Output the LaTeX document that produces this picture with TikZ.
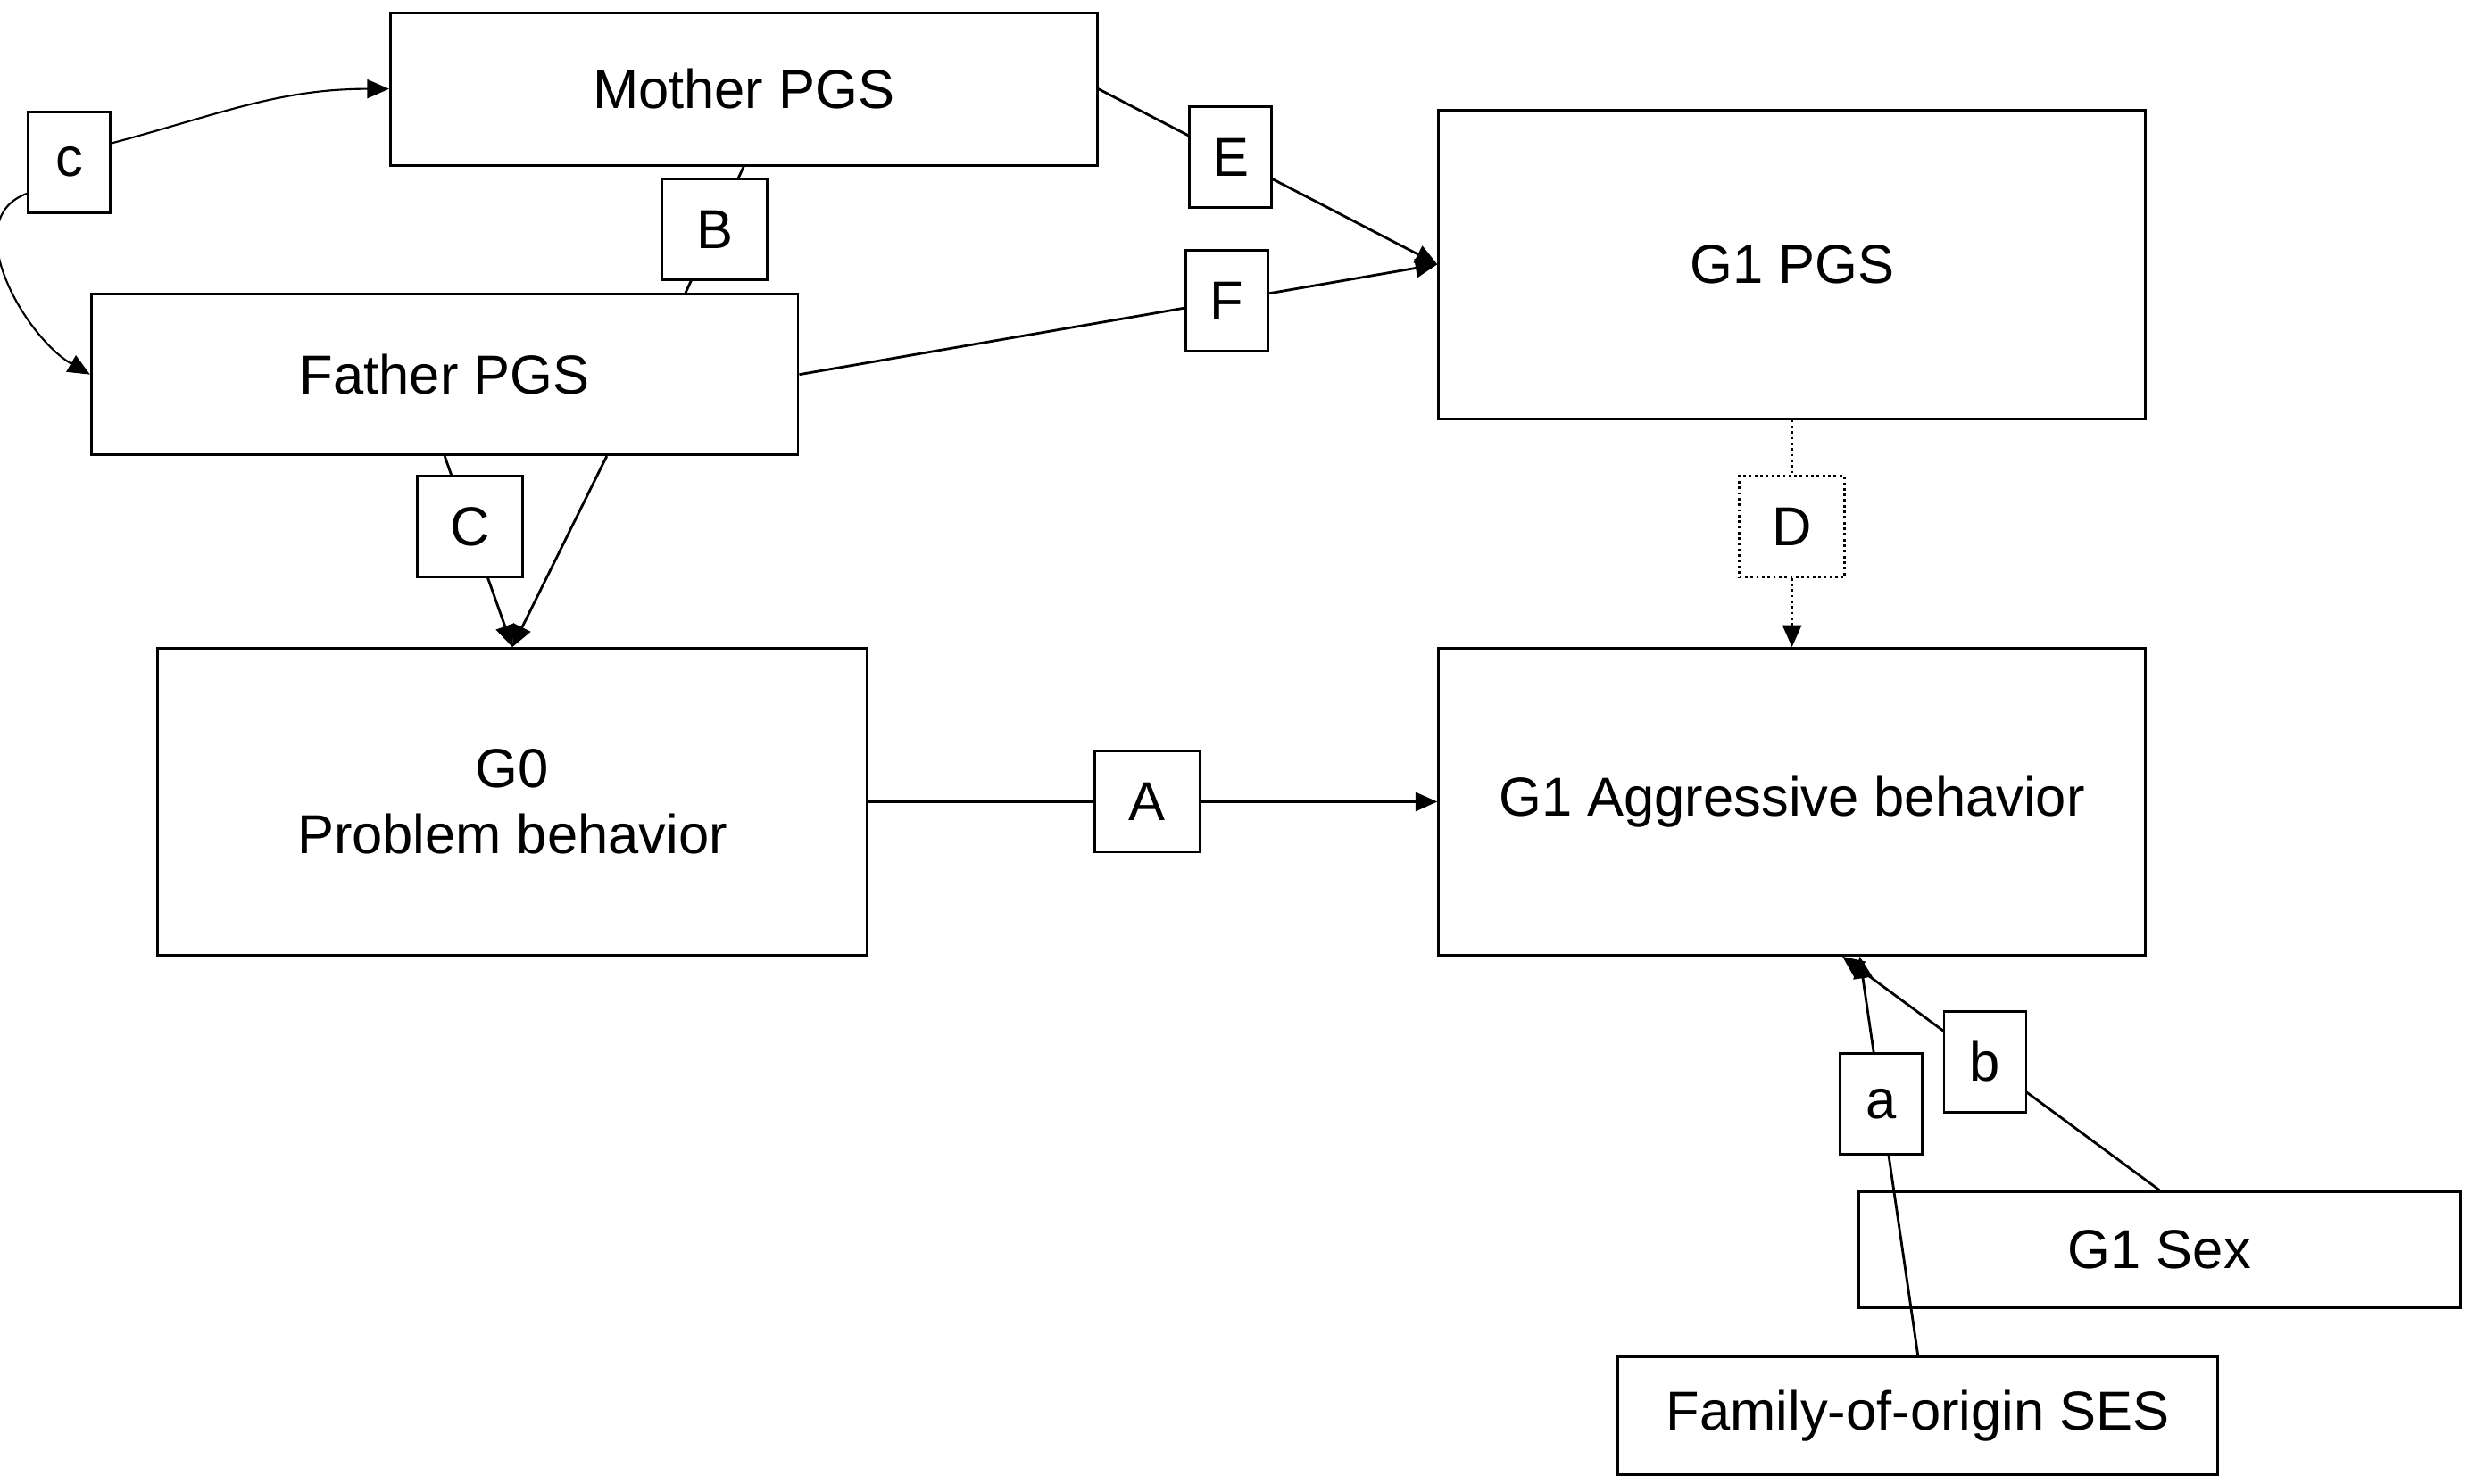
\documentclass[tikz,border=0pt]{standalone}
\usepackage{fontspec}
\setmainfont{Liberation Sans}
\usetikzlibrary{arrows.meta,calc}

\begin{document}
\begin{tikzpicture}[x=0.017634cm,y=-0.017634cm,font=\fontsize{17.5}{21}\selectfont,
    box/.style={draw,thick,rectangle,align=center},
    lbl/.style={draw,thick,fill=white,minimum width=0.92cm,minimum height=1.13cm,inner sep=0pt},
    wlbl/.style={lbl,minimum width=1.18cm},
    >={Triangle[length=7pt,width=6pt]}]
\useasboundingbox (0,0) rectangle (1568,943);
\begin{scope}[every node/.style={box}]
    \node[minimum width=7.92cm,minimum height=1.71cm] (mother) at (472.5,56.5) {Mother PGS};
    \node[minimum width=7.92cm,minimum height=1.80cm] (father) at (282.5,238) {Father PGS};
    \node[minimum width=7.92cm,minimum height=3.46cm] (g1pgs) at (1138.5,168) {G1 PGS};
    \node[minimum width=7.95cm,minimum height=3.44cm] (g0) at (325.5,509.5) {G0\\Problem behavior};
    \node[minimum width=7.92cm,minimum height=3.44cm] (aggr) at (1138.5,509.5) {G1 Aggressive behavior};
    \node[minimum width=6.74cm,minimum height=1.30cm] (sex) at (1372,794) {G1 Sex};
    \node[minimum width=6.72cm,minimum height=1.32cm] (ses) at (1218.5,899.5) {Family-of-origin SES};
\end{scope}

\begin{scope}[thick]
    \node[lbl] (c) at (44,103) {c};
    \draw[->,semithick] ($(c.east)+(0,-12)$) to[out=15,in=180] (mother.west);
    \draw[->,semithick] ($(c.west)+(0,20)$) to[out=200,in=150] (father.west);
    \path[draw] (mother.south) -- node[wlbl,pos=0.5] (B) {B} ($(father.north)+(153,0)$);
    \path[draw,->] (mother.east) -- node[lbl,pos=0.39] (E) {E} (g1pgs.west);
    \path[draw,->] (father.east) -- node[lbl,pos=0.67] (F) {F} (g1pgs.west);
    \path[draw,->] (father.south) -- node[wlbl,pos=0.37] (C) {C} (g0.north);
    \draw[->] ($(father.south)+(103,0)$) -- (g0.north);
    \path[draw,->,densely dotted] (g1pgs.south) -- node[wlbl,densely dotted,pos=0.47] (D) {D} (aggr.north);
    \path[draw,->] (g0.east) -- node[wlbl,pos=0.49] (A) {A} (aggr.west);
    \path[draw,->] (ses.north) -- node[lbl,pos=0.63] (a) {a} ($(aggr.south)+(43,0)$);
    \path[draw,->] (sex.north) -- node[lbl,pos=0.55] (b) {b} ($(aggr.south)+(32,0)$);
\end{scope}
\end{tikzpicture}
\end{document}
